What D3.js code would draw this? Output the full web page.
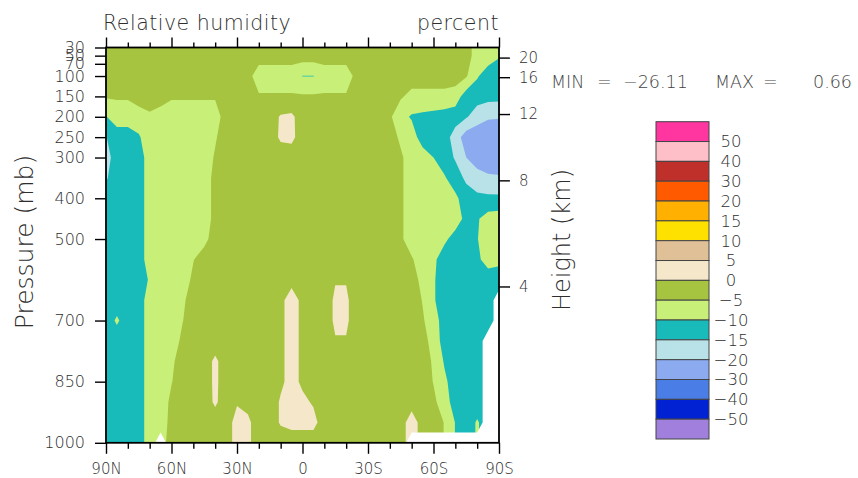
<!DOCTYPE html>
<html>
<head>
<meta charset="utf-8">
<script src="https://cdn.jsdelivr.net/npm/d3@7"></script>
<style>
  body { margin: 0; background: #fff; }
  svg text { font-family: "DejaVu Sans", sans-serif; font-weight: 200; fill: #2e2e2e; }
</style>
</head>
<body>
<svg id="chart" width="858" height="478"></svg>
<script>
// zonal mean relative humidity difference (percent), rows = pressure levels, columns = latitude
const levels = [30, 50, 100, 150, 200, 250, 300, 350, 400, 450, 500, 550, 600, 650, 700, 750, 800, 850, 900, 950, 1000];
const lats = [90, 85, 80, 75, 70, 65, 60, 55, 50, 45, 40, 35, 30, 25, 20, 15, 10, 5, 0,
  -5, -10, -15, -20, -25, -30, -35, -40, -45, -50, -55, -60, -65, -70, -75, -80, -85, -90];

// NaN = missing (below ground)
const rh = [
  [-2.5,-2.5,-2.5,-2.5,-2.5,-2.5,-2.5,-2.5,-2.5,-2.5, -2.5,-2.5,-2.5,-2.5,-2.5,-2.5,-2.5,-2.5,-2.5,-2.5, -2.5,-2.5,-2.5,-2.5,-2.5,-2.5,-2.5,-2.5,-2.5,-2.5, -2.5,-2.5,-2.5,-2.5,-7.5,-7.5,-9],
  [-2.5,-2.5,-2.5,-2.5,-2.5,-2.5,-2.5,-2.5,-2.5,-2.5, -2.5,-2.5,-2.5,-2.5,-2.5,-2.5,-2.5,-2.5,-2.5,-2.5, -2.5,-2.5,-2.5,-2.5,-2.5,-2.5,-2.5,-2.5,-2.5,-2.5, -2.5,-2.5,-2.5,-2.5,-7.5,-7.5,-9.5],
  [-2.5,-2.5,-2.5,-2.5,-2.5,-2.5,-2.5,-2.5,-2.5,-2.5, -2.5,-2.5,-2.5,-3,-8,-8,-8,-8,-10.15,-10.15, -8,-8,-8,-3,-2.5,-2.5,-2.5,-2.5,-2.5,-2.5, -2.5,-2.5,-2.5,-4.5,-9.5,-12.5,-13.5],
  [-4.45,-4.45,-4.45,-2.5,-2.5,-2.5,-4.45,-4.45,-4.45,-4.45, -4.45,-2.5,-2.5,-3,-4.4,-4.4,-4.4,-4.4,-4.4,-4.4, -4.4,-4.4,-4.4,-3,-2.5,-2.5,-2.5,-4.4,-6.5,-6.5, -6.5,-6.5,-7.5,-12.5,-13,-13.5,-13.5],
  [-10.2,-7.5,-7.5,-7.5,-5.8,-7.5,-7.5,-7.5,-7.5,-7.5, -7.5,-2.5,-2.5,-2.5,-2.5,-2.5,0.5,1.0,-2.5,-2.5, -2.5,-2.5,-2.5,-2.5,-2.5,-2.5,-4.2,-8.5,-10.5,-11, -11.5,-12,-12.5,-14.5,-17.5,-19,-19.5],
  [-15.2,-12.5,-12.5,-10.5,-7.5,-7.5,-7.5,-7.5,-7.5,-7.5, -5.5,-2.5,-2.5,-2.5,-2.5,-2.5,0.8,1.2,-2.5,-2.5, -2.5,-2.5,-2.5,-2.5,-2.5,-2.5,-2.5,-6,-7.5,-12.5, -12.5,-12.5,-17.5,-22.5,-23.5,-26.1,-25],
  [-17,-12.5,-12.5,-12.5,-7.5,-7.5,-7.5,-7.5,-7.5,-7.5, -4.5,-2.5,-2.5,-2.5,-2.5,-2.5,-2.5,-2.5,-2.5,-2.5, -2.5,-2.5,-2.5,-2.5,-2.5,-2.5,-2.5,-4.2,-7.5,-7.5, -10,-12.5,-15.5,-20,-23,-24,-23],
  [-15.5,-12.5,-12.5,-12.5,-7.5,-7.5,-7.5,-7.5,-7.5,-7.5, -3.5,-2.5,-2.5,-2.5,-2.5,-2.5,-2.5,-2.5,-2.5,-2.5, -2.5,-2.5,-2.5,-2.5,-2.5,-2.5,-2.5,-4.2,-7.5,-7.5, -7.5,-9.5,-12.5,-16,-17.5,-19,-19.5],
  [-12.5,-12.5,-12.5,-12.5,-7.5,-7.5,-7.5,-7.5,-7.5,-7.5, -3.5,-2.5,-2.5,-2.5,-2.5,-2.5,-2.5,-2.5,-2.5,-2.5, -2.5,-2.5,-2.5,-2.5,-2.5,-2.5,-2.5,-4.2,-7.5,-7.5, -7.5,-7.5,-9,-12.5,-14,-14,-14],
  [-12.5,-12.5,-12.5,-12.5,-7.5,-7.5,-7.5,-7.5,-7.5,-7.5, -3.5,-2.5,-2.5,-2.5,-2.5,-2.5,-2.5,-2.5,-2.5,-2.5, -2.5,-2.5,-2.5,-2.5,-2.5,-2.5,-2.5,-4.2,-7.5,-7.5, -7.5,-7.5,-7.5,-11.5,-10.5,-8,-7.5],
  [-12.5,-12.5,-12.5,-12.5,-7.5,-7.5,-7.5,-7.5,-7.5,-6.5, -2.5,-2.5,-2.5,-2.5,-2.5,-2.5,-2.5,-2.5,-2.5,-2.5, -2.5,-2.5,-2.5,-2.5,-2.5,-2.5,-2.5,-4.2,-7.5,-7.5, -7.5,-9,-12,-12.5,-10.2,-7.5,-7.5],
  [-12.5,-12.5,-12.5,-12.5,-7.5,-7.5,-7.5,-7.5,-5.2,-2.5, -2.5,-2.5,-2.5,-2.5,-2.5,-2.5,-2.5,-2.5,-2.5,-2.5, -2.5,-2.5,-2.5,-2.5,-2.5,-2.5,-2.5,-2.5,-4.5,-7.5, -9,-12.5,-12.5,-12.5,-11,-8,-9.5],
  [-12.5,-12.5,-12.5,-12.5,-9.5,-7.5,-7.5,-7.5,-4,-2.5, -2.5,-2.5,-2.5,-2.5,-2.5,-2.5,-2.5,-1.0,-2.5,-2.5, -2.5,-0.3,-0.3,-2.5,-2.5,-2.5,-2.5,-2.5,-3.5,-6, -9.5,-12.5,-12.5,-12.5,-12.5,-12.5,-11],
  [-12.5,-12.5,-12.5,-12.5,-7.5,-7.5,-7.5,-6,-2.5,-2.5, -2.5,-2.5,-2.5,-2.5,-2.5,-2.5,-0.8,1.5,-0.8,-2.5, -2.5,0.8,0.8,-2.5,-2.5,-2.5,-2.5,-2.5,-2.5,-5.2, -9.5,-12.5,-12.5,-12.5,-12.5,-12.5,NaN],
  [-12.5,-9.3,-12.5,-12.5,-7.5,-7.5,-7.5,-5.2,-2.5,-2.5, -2.5,-2.5,-2.5,-2.5,-2.5,-2.5,-0.8,1.5,-0.8,-2.5, -2.5,0.8,0.8,-2.5,-2.5,-2.5,-2.5,-2.5,-2.5,-4.5, -7.5,-12.5,-12.5,-12.5,-12.5,-12.5,NaN],
  [-12.5,-12.5,-12.5,-12.5,-7.5,-7.5,-7.5,-4,-2.5,-2.5, -2.5,-2.5,-2.5,-2.5,-2.5,-2.5,-0.8,1.5,-0.8,-2.5, -2.5,-0.3,-0.3,-2.5,-2.5,-2.5,-2.5,-2.5,-2.5,-3.5, -6.5,-12.5,-12.5,-12.5,-12.5,NaN,NaN],
  [-12.5,-12.5,-12.5,-12.5,-7.5,-7.5,-6,-2.5,-2.5,-2.5, 1.0,-2.5,-2.5,-2.5,-2.5,-2.5,-0.8,1.5,-0.8,-2.5, -2.5,-2.5,-2.5,-2.5,-2.5,-2.5,-2.5,-2.5,-2.5,-2.5, -5.7,-10.5,-12.5,-12.5,-12.5,NaN,NaN],
  [-12.5,-12.5,-12.5,-12.5,-7.5,-7.5,-5.2,-2.5,-2.5,-2.5, 1.0,-2.5,-2.5,-2.5,-2.5,-2.5,-0.8,1.5,-0.8,-2.5, -2.5,-2.5,-2.5,-2.5,-2.5,-2.5,-2.5,-2.5,-2.5,-2.5, -5.2,-9,-12.5,-12.5,-12.5,NaN,NaN],
  [-12.5,-12.5,-12.5,-12.5,-7.5,-7.5,-4,-2.5,-2.5,-2.5, 0.8,-2.5,-0.5,-1.5,-2.5,-2.5,0.5,1.5,1.0,-0.5, -2.5,-2.5,-2.5,-2.5,-2.5,-2.5,-2.5,-2.5,-2.5,-2.5, -4,-7.5,-12.5,-12.5,-12.5,NaN,NaN],
  [-12.5,-12.5,-12.5,-12.5,-7.5,-7.5,-3.5,-2.5,-2.5,-2.5, -2.5,-2.5,2,1.0,-2.5,-2.5,0.5,1.5,1.5,1.5, -2.5,-2.5,-2.5,-2.5,-2.5,-2.5,-2.5,-2.5,3,-2.5, -2.5,-5.2,-10.2,-12.5,-9.5,NaN,NaN],
  [-12.5,-12.5,-12.5,-12.5,-7.5,NaN,-2.5,-2.5,-2.5,-2.5, -2.5,-2.5,2,1.0,-2.5,-2.5,-2.5,-2.5,-2.5,-2.5, -2.5,-2.5,-2.5,-2.5,-2.5,-2.5,-2.5,-2.5,NaN,NaN, NaN,NaN,NaN,NaN,NaN,NaN,NaN]
];

const thresholds = [-50, -40, -30, -20, -15, -10, -5, 0, 5, 10, 15, 20, 30, 40, 50];
// one colour per band, lowest band first
const bandColors = ["#a080dc", "#0022d2", "#4a7ee6", "#8caaf0", "#b9e1e8", "#18bbba", "#c8f078", "#a6c43f",
  "#f5e7c9", "#e0c097", "#ffe100", "#ffb000", "#ff5a00", "#c0302b", "#ffbfc9", "#ff35a0"];
const legendLabels = ["50", "40", "30", "20", "15", "10", "5", "0", "\u22125", "\u221210", "\u221215", "\u221220", "\u221230", "\u221240", "\u221250"];

const latTicks = [90, 60, 30, 0, -30, -60, -90];
const latLabels = ["90N", "60N", "30N", "0", "30S", "60S", "90S"];
const latMinor = [80, 70, 50, 40, 20, 10, -10, -20, -40, -50, -70, -80];
const presTicks = [30, 50, 70, 100, 150, 200, 250, 300, 400, 500, 700, 850, 1000];
const heightTicks = [4, 8, 12, 16, 20];

const svg = d3.select("#chart");
const plotL = 106, plotR = 499, plotT = 47.5, plotB = 442.8;

const x = d3.scaleLinear().domain([90, -90]).range([plotL, plotR]);
const y = d3.scaleLinear().domain([30, 1000]).range([plotT, plotB]);

// grid index -> data coordinates
const nx = lats.length, ny = levels.length;
const latAt = d3.scaleLinear().domain([0, nx - 1]).range([lats[0], lats[nx - 1]]);
const presAt = d3.scaleLinear().domain(levels.map((d, i) => i)).range(levels);
const proj = d3.geoTransform({
  point: function(gx, gy) { this.stream.point(x(latAt(gx - 0.5)), y(presAt(gy - 0.5))); }
});
const path = d3.geoPath(proj);

const raw = rh.flat();
const mask = raw.map(v => isNaN(v) ? 1 : 0);
// carry the level above into missing cells so the fills stay closed; the mask paints them white later
const filled = raw.slice();
for (let j = 1; j < ny; j++) {
  for (let i = 0; i < nx; i++) {
    if (isNaN(filled[j * nx + i])) filled[j * nx + i] = filled[(j - 1) * nx + i];
  }
}

svg.append("clipPath").attr("id", "frame")
  .append("rect").attr("x", plotL).attr("y", plotT).attr("width", plotR - plotL).attr("height", plotB - plotT);

const plot = svg.append("g").attr("clip-path", "url(#frame)");

plot.selectAll("path.band")
  .data(d3.contours().size([nx, ny]).thresholds(thresholds)(filled))
  .enter().append("path")
  .attr("class", "band")
  .attr("d", path)
  .attr("fill", (d, i) => bandColors[i + 1])
  .attr("fill-rule", "evenodd");

plot.selectAll("path.missing")
  .data(d3.contours().size([nx, ny]).thresholds([0.5])(mask))
  .enter().append("path")
  .attr("class", "missing")
  .attr("d", path)
  .attr("fill", "#fff");

// axes
function styleAxis(g) {
  g.select(".domain").remove();
  g.selectAll(".tick line").attr("stroke", "#000").attr("stroke-width", 1.4);
  g.selectAll(".tick text").attr("fill", "#2e2e2e").style("font-family", "DejaVu Sans, sans-serif").style("font-weight", 200);
}

svg.append("g").attr("transform", "translate(0," + plotB + ")")
  .call(d3.axisBottom(x).tickValues(latTicks).tickFormat((d, i) => latLabels[i]).tickSize(11).tickPadding(10))
  .call(styleAxis).selectAll("text").style("font-size", "15px");
svg.append("g").attr("transform", "translate(0," + plotB + ")")
  .call(d3.axisBottom(x).tickValues(latMinor).tickFormat("").tickSize(6))
  .call(styleAxis);
svg.append("g").attr("transform", "translate(0," + plotT + ")")
  .call(d3.axisTop(x).tickValues(latTicks).tickFormat("").tickSize(10))
  .call(styleAxis);
svg.append("g").attr("transform", "translate(0," + plotT + ")")
  .call(d3.axisTop(x).tickValues(latMinor).tickFormat("").tickSize(5))
  .call(styleAxis);

svg.append("g").attr("transform", "translate(" + plotL + ",0)")
  .call(d3.axisLeft(y).tickValues(presTicks).tickFormat(d3.format("d")).tickSize(11).tickPadding(10))
  .call(styleAxis).selectAll("text").style("font-size", "16px");

// right axis: standard atmosphere height
function stdPressure(km) {
  return km <= 11 ? 1013.25 * Math.pow(1 - 0.0065 * km * 1000 / 288.15, 5.2559)
                  : 226.32 * Math.exp(-(km - 11) / 6.3416);
}
svg.append("g").attr("transform", "translate(" + plotR + ",0)")
  .call(d3.axisRight(y).tickValues(heightTicks.map(stdPressure)).tickFormat((d, i) => heightTicks[i]).tickSize(11).tickPadding(9))
  .call(styleAxis).selectAll("text").style("font-size", "15px");

svg.append("rect")
  .attr("x", plotL).attr("y", plotT).attr("width", plotR - plotL).attr("height", plotB - plotT)
  .attr("fill", "none").attr("stroke", "#000").attr("stroke-width", 1.8);

// titles
svg.append("text").attr("x", 103).attr("y", 30).style("font-size", "20.5px").style("letter-spacing", "0.5px")
  .text("Relative humidity");
svg.append("text").attr("x", 499).attr("y", 30).attr("text-anchor", "end").style("font-size", "20.5px").style("letter-spacing", "0.5px")
  .text("percent");
svg.append("text").attr("transform", "translate(33,242) rotate(-90)").attr("text-anchor", "middle")
  .style("font-size", "25px").text("Pressure (mb)");
svg.append("text").attr("transform", "translate(570,240) rotate(-90)").attr("text-anchor", "middle")
  .style("font-size", "24px").text("Height (km)");

// min / max
const stats = [["MIN", 551, "start"], ["=", 597, "start"], ["\u221226.11", 623, "start"],
  ["MAX", 715, "start"], ["=", 763, "start"], ["0.66", 852, "end"]];
svg.selectAll("text.stat").data(stats).enter().append("text")
  .attr("class", "stat")
  .attr("x", d => d[1]).attr("y", 88).attr("text-anchor", d => d[2])
  .style("font-size", "17.5px").style("fill", "#444")
  .text(d => d[0]);

// label bar
const legY = d3.scaleLinear().domain([0, bandColors.length]).range([121.7, 439]);
const legend = svg.append("g");
legend.selectAll("rect").data(bandColors.slice().reverse()).enter().append("rect")
  .attr("x", 656).attr("width", 53)
  .attr("y", (d, i) => legY(i)).attr("height", (d, i) => legY(i + 1) - legY(i))
  .attr("fill", d => d).attr("stroke", "#444").attr("stroke-width", 1);
legend.selectAll("text").data(legendLabels).enter().append("text")
  .attr("x", 731).attr("y", (d, i) => legY(i + 1)).attr("dy", "0.36em").attr("text-anchor", "middle")
  .style("font-size", "16.5px")
  .text(d => d);
</script>
</body>
</html>
